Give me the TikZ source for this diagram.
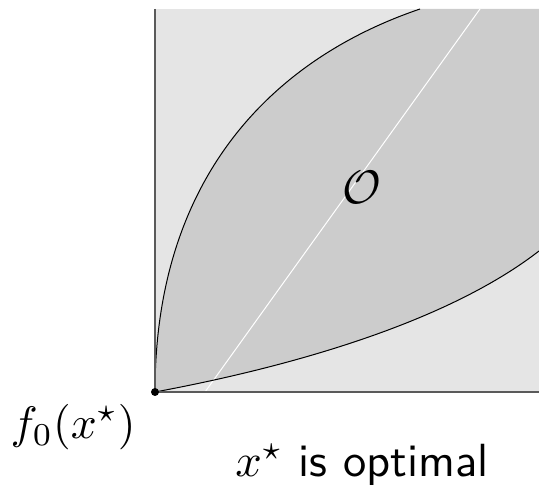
\documentclass[tikz,border=0pt]{standalone}
\usetikzlibrary{calc}
\definecolor{lightfill}{HTML}{E5E5E5}
\definecolor{darkfill}{HTML}{CCCCCC}
\definecolor{axisgray}{HTML}{5A5A5A}
\tikzset{
  axisline/.style={draw=axisgray, line width=1.5pt},
  boundary/.style={draw=black, line width=1pt},
  bigtext/.style={inner sep=0pt, scale=4.55},
}
\begin{document}
\begin{tikzpicture}[x=1pt,y=-1pt]
\useasboundingbox (0,0) rectangle (539,489);
\coordinate (o) at (155,392);
\coordinate (ytop) at (155,9);
\coordinate (xend) at (539,392);
\coordinate (uend) at (420,9);
\coordinate (lend) at (539,251);
\coordinate (wstart) at (205,392);
\coordinate (wend) at (480,9);
% light region
\fill[lightfill] (155,9) rectangle (539,392);
% dark region
\fill[darkfill] (o) .. controls (155,180) and (270,60) .. (uend) -- (539,9) -- (lend)
  .. controls (450,320) and (300,365) .. (o) -- cycle;
% white diagonal
\draw[white, line width=1pt] (wstart) -- (wend);
% boundary curves
\draw[boundary] (o) .. controls (155,180) and (270,60) .. (uend);
\draw[boundary] (o) .. controls (300,365) and (450,320) .. (lend);
% axes
\draw[axisline] (ytop) -- (o) -- (xend);
\node[circle, fill=black, inner sep=0pt, minimum size=8pt] (dot) at (o) {};
\node[inner sep=0pt, scale=4.7] (calO) at (362,187) {$\mathcal{O}$};
\node[bigtext] (f0) at (73,427) {$f_0(x^\star)$};
\node[inner sep=0pt, scale=4.65] (opt) at (362,465) {$x^\star$ \textsf{is optimal}};
\end{tikzpicture}
\end{document}
